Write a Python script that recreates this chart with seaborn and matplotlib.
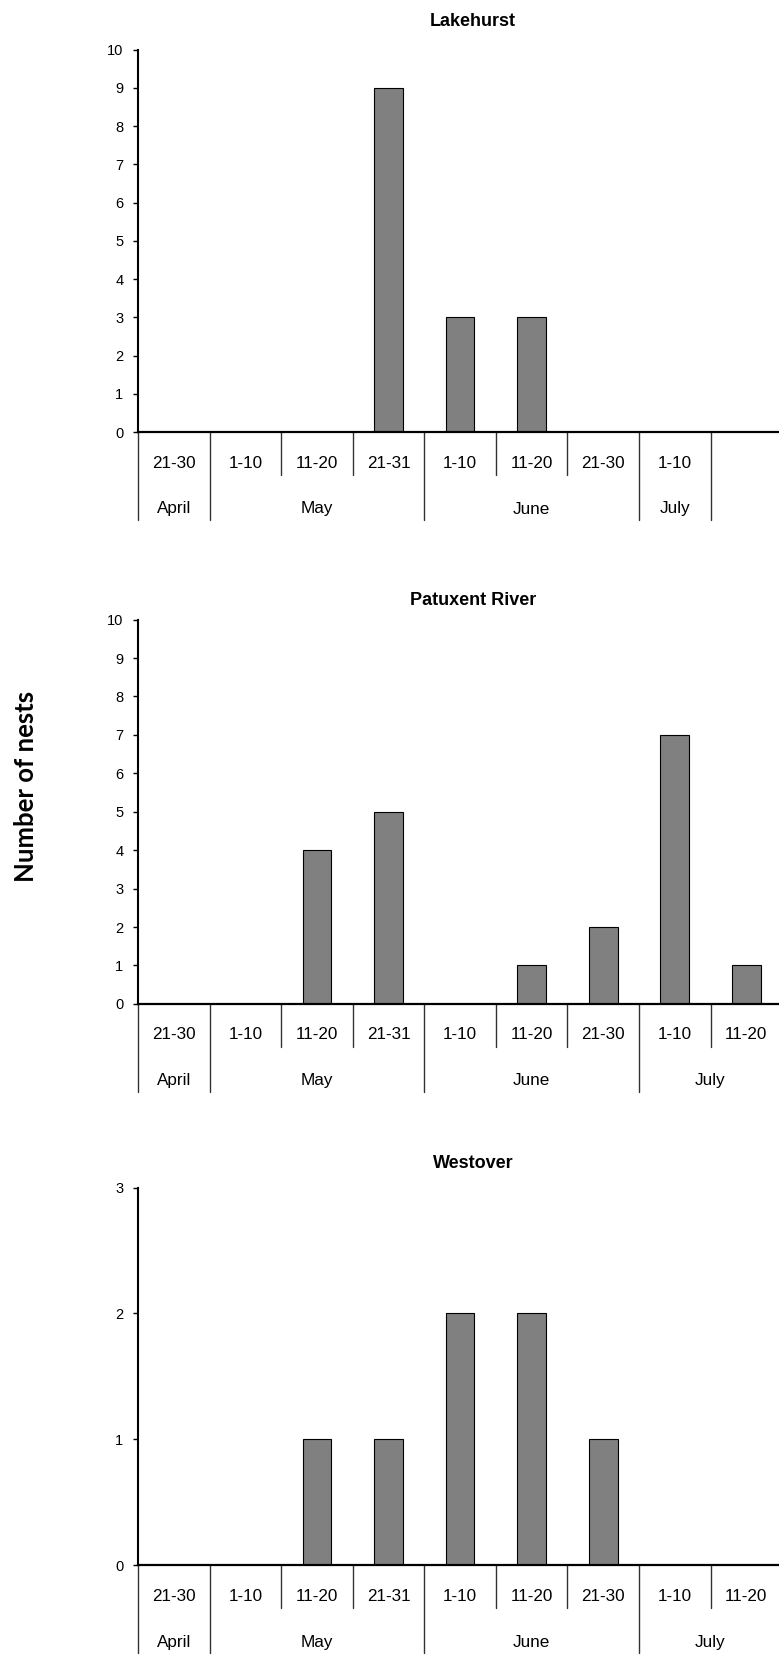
import numpy as np
import pandas as pd
import matplotlib
matplotlib.use("Agg")
import matplotlib.pyplot as plt
import matplotlib.transforms as mtransforms
import seaborn as sns

# ---------------- data ----------------
periods = ["Apr 21-30", "May 1-10", "May 11-20", "May 21-31",
           "Jun 1-10", "Jun 11-20", "Jun 21-30", "Jul 1-10", "Jul 11-20"]
day_labels = ["21-30", "1-10", "11-20", "21-31", "1-10", "11-20", "21-30", "1-10", "11-20"]
months = ["April", "May", "June", "July"]
month_spans = [(0, 0), (1, 3), (4, 6), (7, 8)]

titles = ["Lakehurst", "Patuxent River", "Westover"]
lakehurst = [0, 0, 0, 9, 3, 3, 0, 0]            # 8 periods (no Jul 11-20)
patuxent = [0, 0, 4, 5, 0, 1, 2, 7, 1]
westover = [0, 0, 1, 1, 2, 2, 1, 0, 0]
panel_values = [lakehurst, patuxent, westover]
ymax = [10, 10, 3]

# ---------------- style ----------------
sns.set_theme(style="ticks")
plt.rcParams["font.family"] = ["Liberation Sans", "DejaVu Sans"]

W, H = 779, 1655
fig = plt.figure(figsize=(W / 100, H / 100), dpi=100)

left_px = 138
ax_w_px = W - left_px
cat_px = 71.57
panels_px = [(49.6, 432.0), (619.6, 1003.9), (1187.5, 1565.4)]
title_off_px = [28.6, 19.6, 24.5]

for i, (title, vals) in enumerate(zip(titles, panel_values)):
    top, bot = panels_px[i]
    h_px = bot - top
    ax = fig.add_axes([left_px / W, 1 - bot / H, ax_w_px / W, h_px / H])
    n = len(vals)
    df = pd.DataFrame({"period": periods[:n], "nests": vals})
    sns.barplot(data=df, x="period", y="nests", order=periods, ax=ax,
                color="#808080", saturation=1, width=0.4,
                edgecolor="black", linewidth=0.8)
    ax.set_xlim(-0.5, -0.5 + ax_w_px / cat_px)
    ax.set_ylim(0, ymax[i])
    ax.set_yticks(range(0, ymax[i] + 1))
    ax.tick_params(axis="y", length=3.5, width=1, labelsize=10.5, pad=7, colors="black")
    ax.set_xticks([])
    ax.set_xlabel("")
    ax.set_ylabel("")
    sns.despine(ax=ax)
    ax.spines["left"].set_linewidth(1.5)
    ax.spines["bottom"].set_linewidth(1.6)
    ax.spines["left"].set_color("black")
    ax.spines["bottom"].set_color("black")

    trans = mtransforms.blended_transform_factory(ax.transData, ax.transAxes)
    n_lab = len(vals)
    short = -43 / h_px
    long_ = -88 / h_px
    # day labels
    for k in range(n_lab):
        ax.text(k, -31 / h_px, day_labels[k], transform=trans, ha="center",
                va="center", fontsize=12.3, color="black")
    # month labels
    month_bounds = set()
    last_cat = n_lab - 1
    for m, (a, b) in zip(months, month_spans):
        b = min(b, last_cat)
        ax.text((a + b) / 2, -77 / h_px, m, transform=trans, ha="center",
                va="center", fontsize=12.3, color="black")
        month_bounds.add(a - 0.5)
        month_bounds.add(b + 0.5)
    # separators
    for k in range(n_lab + 1):
        xb = k - 0.5
        if xb in month_bounds:
            if i > 0 and k == n_lab:
                continue
            y2 = long_
        else:
            y2 = short
        ax.plot([xb, xb], [0, y2], transform=trans, color="#333333",
                lw=1.0, clip_on=False)

    ax.text((473 - left_px) / ax_w_px, 1 + title_off_px[i] / h_px, title,
            transform=ax.transAxes, ha="center", va="center",
            fontsize=13, fontweight="bold", color="black")

fig.text(26.0 / W, 1 - 786 / H, "Number of nests", rotation=90, ha="center",
         va="center", fontsize=18.5, fontweight="bold", color="black",
         family=["Lato", "DejaVu Sans"])

fig.savefig("out.png", dpi=100)
